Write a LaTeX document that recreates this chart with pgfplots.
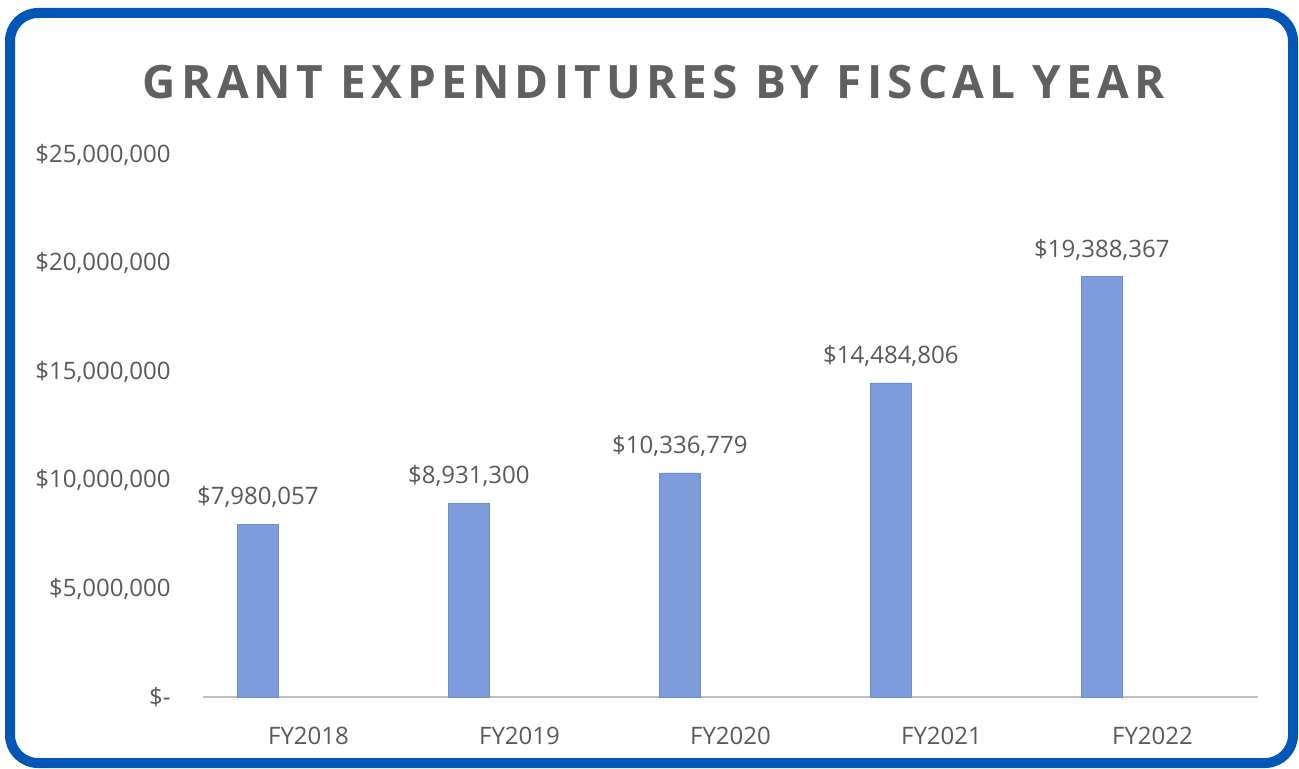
\documentclass[border=0pt]{standalone}
\usepackage{pgfplots}
\pgfplotsset{compat=1.18}
\usepackage{fontspec}
\setmainfont{Open Sans}
\newfontfamily\titlefont[LetterSpace=11.3]{Open Sans}

\definecolor{frameblue}{RGB}{0,87,184}
\definecolor{txtgray}{RGB}{89,89,89}
\definecolor{titlegray}{RGB}{96,96,96}
\definecolor{axisgray}{RGB}{191,191,191}
\definecolor{barfill}{RGB}{126,156,219}
\definecolor{bardark}{RGB}{108,140,212}

\begin{document}
\begin{tikzpicture}[x=1pt,y=1pt]
    % page and frame
    \path[fill=white] (0,0) rectangle (649.5,384);
    \draw[frameblue, line width=5pt, rounded corners=14pt] (5,2.5) rectangle (646.5,377.5);

    \node[anchor=base, font=\titlefont\fontsize{23}{27}\selectfont\bfseries, text=titlegray]
        at (327,335) {GRANT EXPENDITURES BY FISCAL YEAR};

    \begin{axis}[
        at={(101.5pt,35.5pt)}, anchor=south west,
        scale only axis,
        width=527.5pt, height=271pt,
        xmin=-0.5, xmax=4.5,
        ymin=0, ymax=25000000,
        axis line style={draw=none},
        major tick length=0pt,
        xtick={0,1,2,3,4},
        xticklabels={FY2018,FY2019,FY2020,FY2021,FY2022},
        ytick={0,5000000,10000000,15000000,20000000,25000000},
        yticklabels={{\$-},{\$5,000,000},{\$10,000,000},{\$15,000,000},{\$20,000,000},{\$25,000,000}},
        scaled y ticks=false,
        tick label style={font=\fontsize{12}{14}\selectfont, text=txtgray, inner sep=0pt},
        yticklabel style={anchor=east, xshift=-16pt},
        xticklabel style={anchor=north, yshift=-15pt},
        clip=false,
    ]
    \draw[axisgray, line width=1.3pt] (axis cs:-0.5,0) -- (axis cs:4.5,0);
    \addplot[
        ybar, bar width=0.19, bar shift=0,
        draw=bardark, line width=0.4pt, fill=barfill,
        point meta=explicit symbolic,
        nodes near coords,
        every node near coord/.append style={anchor=south, inner sep=0pt, yshift=8pt,
            font=\fontsize{12}{14}\selectfont, text=txtgray},
    ] table[meta=label] {
        x y label
        -0.24 7980057 \$7,980,057
        0.76 8931300 \$8,931,300
        1.76 10336779 \$10,336,779
        2.76 14484806 \$14,484,806
        3.76 19388367 \$19,388,367
    };
    \end{axis}
\end{tikzpicture}
\end{document}
